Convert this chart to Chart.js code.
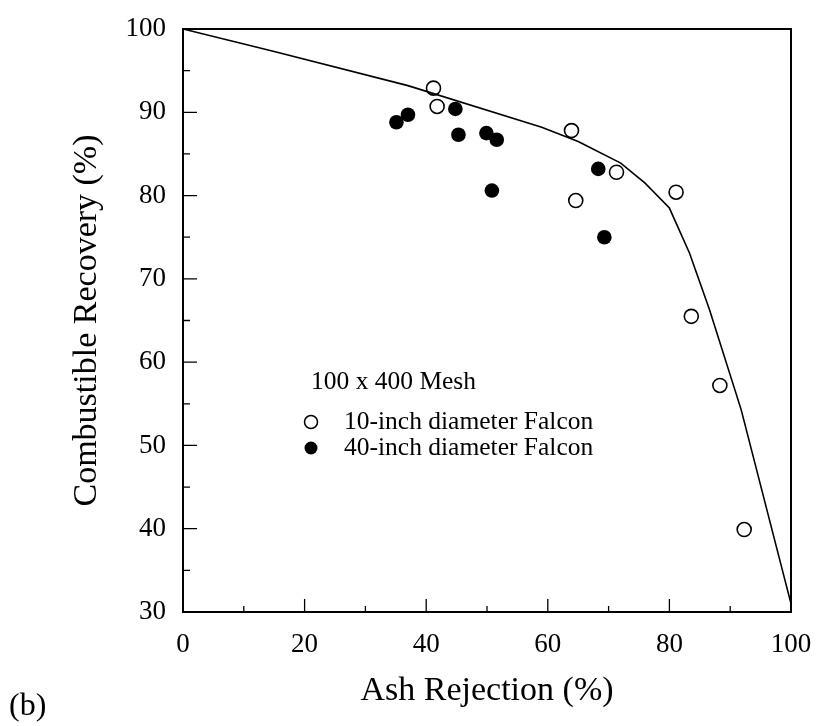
<!DOCTYPE html>
<html>
<head>
<meta charset="utf-8">
<script src="https://cdn.jsdelivr.net/npm/chart.js@4.4.0/dist/chart.umd.min.js"></script>
<style>
  html, body { margin: 0; background: #fff; }
  #wrap { width: 824px; height: 726px; }
</style>
</head>
<body>
<div id="wrap"><canvas id="chart"></canvas></div>
<script>
// fitted curve
const curveX = [0, 15, 37, 59, 65, 72, 76, 80, 83.3, 86.6, 91.8, 100];
const curveY = [100, 97.3, 93.2, 88.2, 86.5, 83.9, 81.5, 78.5, 73.1, 66.3, 54.3, 31];
// 10-inch diameter Falcon (open circles)
const falcon10X = [41.2, 41.8, 63.9, 64.6, 71.3, 81.1, 83.6, 88.3, 92.3];
const falcon10Y = [92.9, 90.7, 87.8, 79.4, 82.8, 80.4, 65.5, 57.2, 39.9];
// 40-inch diameter Falcon (filled circles)
const falcon40X = [35.1, 37.0, 44.8, 45.3, 49.9, 51.6, 50.8, 68.3, 69.3];
const falcon40Y = [88.8, 89.7, 90.4, 87.3, 87.5, 86.7, 80.6, 83.2, 75.0];

const xMinorTicks = [0, 10, 20, 30, 40, 50, 60, 70, 80, 90, 100];
const yMinorTicks = [30, 35, 40, 45, 50, 55, 60, 65, 70, 75, 80, 85, 90, 95, 100];

const legendTitle = "100 x 400 Mesh";
const legendLabels = ["10-inch diameter Falcon", "40-inch diameter Falcon"];
const panelLabel = "(b)";

const FONT = "'Liberation Serif', 'Times New Roman', serif";

function pts(xs, ys) {
  return xs.map((x, i) => ({ x: x, y: ys[i] }));
}

// frame, inward ticks, legend and panel label
const framePlugin = {
  id: "frame",
  afterDraw(chart) {
    const ctx = chart.ctx;
    const a = chart.chartArea;
    const xs = chart.scales.x;
    const ys = chart.scales.y;
    ctx.save();
    ctx.strokeStyle = "#000";
    ctx.lineWidth = 2;
    ctx.strokeRect(a.left, a.top, a.right - a.left, a.bottom - a.top);

    ctx.lineWidth = 1.3;
    ctx.beginPath();
    xMinorTicks.forEach(v => {
      const px = xs.getPixelForValue(v);
      const len = v % 20 === 0 ? 13 : 6;
      ctx.moveTo(px, a.bottom);
      ctx.lineTo(px, a.bottom - len);
    });
    yMinorTicks.forEach(v => {
      const py = ys.getPixelForValue(v);
      const len = v % 10 === 0 ? 14 : 7;
      ctx.moveTo(a.left, py);
      ctx.lineTo(a.left + len, py);
    });
    ctx.stroke();

    // legend
    ctx.fillStyle = "#000";
    ctx.font = "25.5px " + FONT;
    ctx.textBaseline = "middle";
    ctx.textAlign = "left";
    ctx.fillText(legendTitle, 311, 382);
    const rows = [422, 448];
    rows.forEach((y, i) => {
      ctx.beginPath();
      ctx.arc(311, y, 6.5, 0, Math.PI * 2);
      if (i === 0) {
        ctx.fillStyle = "#fff";
        ctx.fill();
        ctx.lineWidth = 1.5;
        ctx.stroke();
      } else {
        ctx.fillStyle = "#000";
        ctx.fill();
      }
      ctx.fillStyle = "#000";
      ctx.fillText(legendLabels[i], 344, y);
    });

    ctx.font = "32px " + FONT;
    ctx.textBaseline = "alphabetic";
    ctx.fillText(panelLabel, 9, 715);
    ctx.restore();
  }
};

const ctx = document.getElementById("chart").getContext("2d");
new Chart(ctx, {
  type: "scatter",
  data: {
    datasets: [
      {
        label: "Curve",
        data: pts(curveX, curveY),
        showLine: true,
        borderColor: "#000",
        borderWidth: 1.6,
        pointRadius: 0,
        tension: 0
      },
      {
        label: legendLabels[0],
        data: pts(falcon10X, falcon10Y),
        pointRadius: 7,
        pointBackgroundColor: "#fff",
        pointBorderColor: "#000",
        pointBorderWidth: 1.6
      },
      {
        label: legendLabels[1],
        data: pts(falcon40X, falcon40Y),
        pointRadius: 7.3,
        pointBackgroundColor: "#000",
        pointBorderColor: "#000",
        pointBorderWidth: 0
      }
    ]
  },
  options: {
    responsive: true,
    maintainAspectRatio: false,
    animation: false,
    layout: { padding: { top: 29, right: 33, left: 0, bottom: 0 } },
    plugins: {
      legend: { display: false },
      tooltip: { enabled: false }
    },
    scales: {
      x: {
        type: "linear",
        min: 0,
        max: 100,
        afterFit(scale) {
          scale.height = 114;
          scale.paddingLeft = 0;
          scale.paddingRight = 0;
        },
        grid: { display: false, drawTicks: false },
        border: { display: false },
        ticks: {
          stepSize: 20,
          padding: 17,
          color: "#000",
          font: { family: FONT, size: 27 }
        },
        title: {
          display: true,
          text: "Ash Rejection (%)",
          color: "#000",
          font: { family: FONT, size: 34 },
          padding: { top: 0, bottom: 15 }
        }
      },
      y: {
        type: "linear",
        min: 30,
        max: 100,
        afterFit(scale) {
          scale.width = 183;
          scale.paddingTop = 0;
          scale.paddingBottom = 0;
        },
        grid: { display: false, drawTicks: false },
        border: { display: false },
        ticks: {
          stepSize: 10,
          padding: 17,
          color: "#000",
          font: { family: FONT, size: 27 }
        },
        title: {
          display: true,
          text: "Combustible Recovery (%)",
          color: "#000",
          font: { family: FONT, size: 34 },
          padding: { top: 67, bottom: 0 }
        }
      }
    }
  },
  plugins: [framePlugin]
});
</script>
</body>
</html>
